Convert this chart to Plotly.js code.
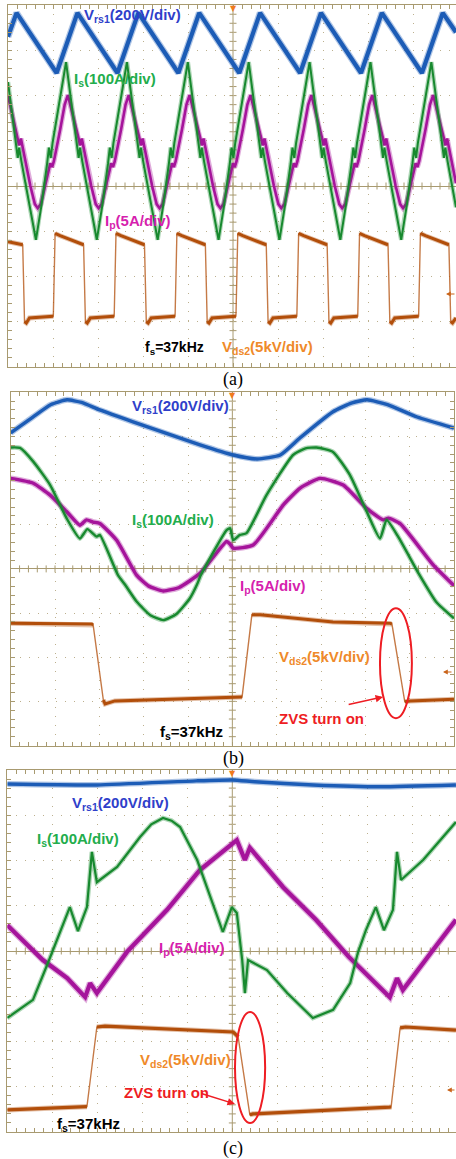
<!DOCTYPE html>
<html><head><meta charset="utf-8">
<script src="https://cdn.plot.ly/plotly-3.0.1.min.js"></script>
<style>html,body{margin:0;padding:0;background:#fff;}#chart{width:456px;height:1159px;}</style>
</head><body><div id="chart"></div>
<script>
// ---------------- DATA (x: divisions from left edge, y: divisions from screen centre) ----------------
// Panel (a) 20 us/div
const aBlueX = [0, 0.19, 1.08, 1.543, 2.433, 2.896, 3.786, 4.249, 5.139, 5.602, 6.492, 6.955, 7.845, 8.308, 9.198, 9.661, 9.956];
const aBlueY = [3.30, 3.83, 2.50, 3.83, 2.50, 3.83, 2.50, 3.83, 2.50, 3.83, 2.50, 3.83, 2.50, 3.83, 2.50, 3.83, 3.40];

const aGreenX = [0, 0.057, 0.187, 0.217, 0.247, 0.297, 0.62, 0.74, 0.87, 0.91, 0.95, 0.99, 1.29,
  1.41, 1.54, 1.57, 1.60, 1.65, 1.973, 2.093, 2.223, 2.263, 2.303, 2.343, 2.643,
  2.763, 2.893, 2.923, 2.953, 3.003, 3.326, 3.446, 3.576, 3.616, 3.656, 3.696, 3.996,
  4.116, 4.246, 4.276, 4.306, 4.356, 4.679, 4.799, 4.929, 4.969, 5.009, 5.049, 5.349,
  5.469, 5.599, 5.629, 5.659, 5.709, 6.032, 6.152, 6.282, 6.322, 6.362, 6.402, 6.702,
  6.822, 6.952, 6.982, 7.012, 7.062, 7.385, 7.505, 7.635, 7.675, 7.715, 7.755, 8.055,
  8.175, 8.305, 8.335, 8.365, 8.415, 8.738, 8.858, 8.988, 9.028, 9.068, 9.108, 9.408,
  9.528, 9.658, 9.688, 9.718, 9.768, 9.956];
const aGreenY = [2.30, 1.85, 0.85, 0.62, 0.85, 0.55, -1.19, -0.45, 0.5, 0.85, 0.62, 0.95, 2.74,
  1.85, 0.85, 0.62, 0.85, 0.55, -1.19, -0.45, 0.5, 0.85, 0.62, 0.95, 2.74,
  1.85, 0.85, 0.62, 0.85, 0.55, -1.19, -0.45, 0.5, 0.85, 0.62, 0.95, 2.74,
  1.85, 0.85, 0.62, 0.85, 0.55, -1.19, -0.45, 0.5, 0.85, 0.62, 0.95, 2.74,
  1.85, 0.85, 0.62, 0.85, 0.55, -1.19, -0.45, 0.5, 0.85, 0.62, 0.95, 2.74,
  1.85, 0.85, 0.62, 0.85, 0.55, -1.19, -0.45, 0.5, 0.85, 0.62, 0.95, 2.74,
  1.85, 0.85, 0.62, 0.85, 0.55, -1.19, -0.45, 0.5, 0.85, 0.62, 0.95, 2.74,
  1.85, 0.85, 0.62, 0.85, 0.55, -0.47];

const aMagX = [0, 0.097, 0.217, 0.247, 0.287, 0.337, 0.497, 0.597, 0.66, 0.73, 0.84, 0.94, 0.98, 1.02, 1.16, 1.26, 1.33,
  1.45, 1.57, 1.60, 1.64, 1.69, 1.85, 1.95, 2.013, 2.083, 2.193, 2.293, 2.333, 2.373, 2.513, 2.613, 2.683,
  2.803, 2.923, 2.953, 2.993, 3.043, 3.203, 3.303, 3.366, 3.436, 3.546, 3.646, 3.686, 3.726, 3.866, 3.966, 4.036,
  4.156, 4.276, 4.306, 4.346, 4.396, 4.556, 4.656, 4.719, 4.789, 4.899, 4.999, 5.039, 5.079, 5.219, 5.319, 5.389,
  5.509, 5.629, 5.659, 5.699, 5.749, 5.909, 6.009, 6.072, 6.142, 6.252, 6.352, 6.392, 6.432, 6.572, 6.672, 6.742,
  6.862, 6.982, 7.012, 7.052, 7.102, 7.262, 7.362, 7.425, 7.495, 7.605, 7.705, 7.745, 7.785, 7.925, 8.025, 8.095,
  8.215, 8.335, 8.365, 8.405, 8.455, 8.615, 8.715, 8.778, 8.848, 8.958, 9.058, 9.098, 9.138, 9.278, 9.378, 9.448,
  9.568, 9.688, 9.718, 9.758, 9.808, 9.956];
const aMagY = [2.0, 1.55, 1.05, 0.9, 1.05, 0.8, 0.0, -0.4, -0.49, -0.4, 0.05, 0.5, 0.42, 0.55, 1.25, 1.8, 2.01,
  1.55, 1.05, 0.9, 1.05, 0.8, 0.0, -0.4, -0.49, -0.4, 0.05, 0.5, 0.42, 0.55, 1.25, 1.8, 2.01,
  1.55, 1.05, 0.9, 1.05, 0.8, 0.0, -0.4, -0.49, -0.4, 0.05, 0.5, 0.42, 0.55, 1.25, 1.8, 2.01,
  1.55, 1.05, 0.9, 1.05, 0.8, 0.0, -0.4, -0.49, -0.4, 0.05, 0.5, 0.42, 0.55, 1.25, 1.8, 2.01,
  1.55, 1.05, 0.9, 1.05, 0.8, 0.0, -0.4, -0.49, -0.4, 0.05, 0.5, 0.42, 0.55, 1.25, 1.8, 2.01,
  1.55, 1.05, 0.9, 1.05, 0.8, 0.0, -0.4, -0.49, -0.4, 0.05, 0.5, 0.42, 0.55, 1.25, 1.8, 2.01,
  1.55, 1.05, 0.9, 1.05, 0.8, 0.0, -0.4, -0.49, -0.4, 0.05, 0.5, 0.42, 0.55, 1.25, 1.8, 2.01,
  1.55, 1.05, 0.9, 1.05, 0.8, 0.06];

const aBrownX = [0, 0.327, 0.367, 0.407, 0.477, 1.007, 1.047, 1.157,
  1.68, 1.72, 1.76, 1.83, 2.36, 2.40, 2.51,
  3.033, 3.073, 3.113, 3.183, 3.713, 3.753, 3.863,
  4.386, 4.426, 4.466, 4.536, 5.066, 5.106, 5.216,
  5.739, 5.779, 5.819, 5.889, 6.419, 6.459, 6.569,
  7.092, 7.132, 7.172, 7.242, 7.772, 7.812, 7.922,
  8.445, 8.485, 8.525, 8.595, 9.125, 9.165, 9.275,
  9.798, 9.838, 9.878, 9.956];
const aBrownY = [-1.23, -1.30, -3.0, -3.03, -2.92, -2.88, -1.05, -1.10,
  -1.30, -3.0, -3.03, -2.92, -2.88, -1.05, -1.10,
  -1.30, -3.0, -3.03, -2.92, -2.88, -1.05, -1.10,
  -1.30, -3.0, -3.03, -2.92, -2.88, -1.05, -1.10,
  -1.30, -3.0, -3.03, -2.92, -2.88, -1.05, -1.10,
  -1.30, -3.0, -3.03, -2.92, -2.88, -1.05, -1.10,
  -1.30, -3.0, -3.03, -2.92, -2.88, -1.05, -1.10,
  -1.30, -3.0, -3.03, -2.92];

// Panel (b) 4 us/div
const bBlueX = [0, 0.50, 0.9, 1.27, 1.6, 2.01, 2.76, 4.27, 5.02, 5.56, 6.08, 6.53, 7.27, 7.7, 8.04, 8.5, 9.17, 10];
const bBlueY = [3.08, 3.44, 3.72, 3.83, 3.77, 3.60, 3.33, 2.81, 2.58, 2.49, 2.58, 2.97, 3.56, 3.76, 3.83, 3.72, 3.44, 3.19];
const bGreenX = [0, 0.21, 0.51, 0.89, 1.26, 1.56, 1.73, 1.94, 2.01, 2.42, 2.58, 2.84, 3.15, 3.44, 3.74, 4.04, 4.20, 4.29,
  4.87, 4.95, 5.02, 5.17, 5.32, 5.77, 6.37, 6.65, 6.90, 7.27, 7.65, 8.03, 8.33, 8.48, 8.74, 9.2, 9.6, 10];
const bGreenY = [2.75, 2.74, 2.43, 1.90, 1.15, 0.69, 0.90, 0.73, 0.77, -0.14, -0.36, -0.74, -1.05, -1.16, -1.02, -0.67, -0.36, -0.14,
  0.88, 0.92, 0.65, 0.77, 0.81, 1.67, 2.58, 2.73, 2.75, 2.65, 2.13, 1.30, 0.69, 1.11, 0.73, -0.1, -0.75, -1.12];
const bMagX = [0, 0.51, 0.89, 1.26, 1.56, 1.71, 1.86, 2.01, 2.39, 2.84, 3.1, 3.44, 3.8, 4.27, 4.87, 4.95, 5.02, 5.47,
  6.15, 6.53, 6.98, 7.50, 8.03, 8.40, 8.52, 8.78, 9.53, 10];
const bMagY = [2.05, 1.94, 1.67, 1.30, 0.99, 1.11, 1.06, 1.03, 0.65, -0.14, -0.38, -0.50, -0.42, -0.10, 0.62, 0.56, 0.47, 0.54,
  1.45, 1.83, 2.05, 1.90, 1.37, 1.11, 1.15, 1.03, 0.09, -0.38];
const bBrownX = [0, 1.83, 1.86, 2.09, 2.13, 2.35, 5.17, 5.22, 5.44, 5.63, 7.27, 8.56, 8.60, 8.89, 9.01, 10];
const bBrownY = [-1.23, -1.25, -1.27, -2.97, -3.06, -2.99, -2.90, -2.90, -1.04, -1.04, -1.20, -1.23, -1.25, -3.01, -2.99, -2.95];

// Panel (c) 4 us/div
const cBlueX = [0, 2.0, 4.2, 5.0, 5.5, 6.8, 8.3, 9.97];
const cBlueY = [3.69, 3.67, 3.76, 3.78, 3.74, 3.67, 3.63, 3.67];
const cGreenX = [0, 0.57, 0.90, 1.17, 1.39, 1.57, 1.77, 1.88, 1.99, 2.44, 2.95, 3.2, 3.46, 3.65, 3.84, 4.22, 4.57, 4.79, 4.99, 5.10,
  5.22, 5.28, 5.35, 5.77, 6.22, 6.79, 7.24, 7.62, 7.79, 7.97, 8.19, 8.37, 8.57, 8.66, 8.75, 9.24, 9.97];
const cGreenY = [-1.48, -1.08, -0.27, 0.40, 0.97, 0.44, 0.97, 2.19, 1.52, 1.86, 2.52, 2.80, 2.94, 2.88, 2.74, 2.01, 1.06, 0.42, 0.97, 0.84,
  -0.20, -0.93, -0.20, -0.42, -0.93, -1.48, -1.30, -0.71, -0.04, 0.46, 0.97, 0.46, 0.91, 2.19, 1.57, 2.01, 2.85];
const cMagX = [0, 0.79, 1.33, 1.73, 1.84, 1.99, 2.66, 3.55, 4.28, 4.95, 5.10, 5.28, 5.39, 6.13, 6.86, 7.59, 7.99, 8.50, 8.66, 8.79, 9.46, 9.97];
const cMagY = [0.57, -0.20, -0.60, -1.02, -0.71, -0.93, -0.02, 0.91, 1.79, 2.34, 2.45, 2.01, 2.28, 1.41, 0.69, -0.13, -0.53, -1.02, -0.60, -0.86, 0.02, 0.69];
const cBrownX = [0, 1.73, 1.77, 1.99, 2.17, 5.02, 5.13, 5.39, 5.46, 8.50, 8.53, 8.73, 8.85, 9.97];
const cBrownY = [-3.51, -3.45, -3.44, -1.68, -1.66, -1.79, -1.90, -3.62, -3.60, -3.45, -3.44, -1.70, -1.68, -1.75];

// ---------------- STYLE ----------------
const W = 456, H = 1159;
const GRID = '#a89a70', DOT = '#bcb08e';
const COL = {blue: '#1c5cb6', green: '#17892e', mag: '#a5149b', brown: '#b24e0a'};
const TXT = {blue: '#2f3fca', green: '#22ad4c', mag: '#d61fae', orange: '#ef8a2a', red: '#ee1d23'};
const FONT = '"Liberation Sans", Arial, sans-serif';

const panels = [
  {n: 1, xd: [8 / W, 1], yd: [1 - 366.8 / H, 1 - 5.2 / H], xr: [0, 448 / 45], right: false},
  {n: 2, xd: [10.7 / W, 454 / W], yd: [1 - 745.5 / H, 1 - 392.3 / H], xr: [0, 10], right: true},
  {n: 3, xd: [7.3 / W, 1], yd: [1 - 1132 / H, 1 - 770 / H], xr: [0, 448.7 / 45], right: false}
];
const sfx = n => (n === 1 ? '' : String(n));

// a trace drawn as a faint halo (scope noise band) plus its core line
function tr(x, y, color, width, n, shape, out) {
  const base = {type: 'scatter', mode: 'lines', x: x, y: y, xaxis: 'x' + sfx(n), yaxis: 'y' + sfx(n),
    hoverinfo: 'skip', showlegend: false};
  out.push(Object.assign({}, base, {opacity: 0.35, line: {color: color, width: width + 2.5, shape: shape || 'linear', smoothing: 0.5}}));
  out.push(Object.assign({}, base, {line: {color: color, width: width, shape: shape || 'linear', smoothing: 0.5}}));
}
// a square-ish trace: thin everywhere, thick only on its slow (flat) parts
function trStep(x, y, color, width, n, out) {
  const fx = [], fy = [];
  for (let i = 0; i < x.length; i++) {
    if (i > 0) {
      const slope = Math.abs((y[i] - y[i - 1]) / (x[i] - x[i - 1]));
      if (slope > 3) { fx.push(null); fy.push(null); }
    }
    fx.push(x[i]); fy.push(y[i]);
  }
  const base = {type: 'scatter', mode: 'lines', xaxis: 'x' + sfx(n), yaxis: 'y' + sfx(n), hoverinfo: 'skip', showlegend: false};
  out.push(Object.assign({}, base, {x: x, y: y, opacity: 0.75, line: {color: color, width: 1.4}}));
  out.push(Object.assign({}, base, {x: fx, y: fy, connectgaps: false, opacity: 0.35, line: {color: color, width: width + 2}}));
  out.push(Object.assign({}, base, {x: fx, y: fy, connectgaps: false, line: {color: color, width: width}}));
}
const data = [];
tr(aMagX, aMagY, COL.mag, 2.6, 1, 'linear', data); tr(aGreenX, aGreenY, COL.green, 2, 1, 'linear', data);
tr(aBlueX, aBlueY, COL.blue, 4.2, 1, 'linear', data); trStep(aBrownX, aBrownY, COL.brown, 3, 1, data);
tr(bMagX, bMagY, COL.mag, 3.4, 2, 'spline', data); tr(bGreenX, bGreenY, COL.green, 2.4, 2, 'spline', data);
tr(bBlueX, bBlueY, COL.blue, 3.4, 2, 'spline', data); trStep(bBrownX, bBrownY, COL.brown, 3, 2, data);
tr(cMagX, cMagY, COL.mag, 4.2, 3, 'linear', data); tr(cGreenX, cGreenY, COL.green, 2.2, 3, 'linear', data);
tr(cBlueX, cBlueY, COL.blue, 3.4, 3, 'spline', data); trStep(cBrownX, cBrownY, COL.brown, 3.2, 3, data);

const layout = {width: W, height: H, margin: {l: 0, r: 0, t: 0, b: 0}, paper_bgcolor: '#fff', plot_bgcolor: '#fff',
  showlegend: false, shapes: [], annotations: []};

panels.forEach(p => {
  const s = sfx(p.n);
  const minor = {dtick: 0.2, tick0: 0, ticks: 'inside', ticklen: 4, tickcolor: GRID, tickwidth: 1, showgrid: false};
  layout['xaxis' + s] = {domain: p.xd, range: p.xr, anchor: 'y' + s, tickmode: 'linear', dtick: 1, tick0: 0,
    showgrid: true, gridcolor: DOT, griddash: '1px,8px', gridwidth: 1, showline: true, linecolor: GRID, linewidth: 1,
    mirror: 'allticks', ticks: 'inside', ticklen: 4, tickcolor: GRID, showticklabels: false, zeroline: false,
    fixedrange: true, minor: minor};
  layout['yaxis' + s] = {domain: p.yd, range: [-4, 4], anchor: 'x' + s, tickmode: 'linear', dtick: 1, tick0: 0,
    showgrid: true, gridcolor: DOT, griddash: '1px,8px', gridwidth: 1, showline: true, linecolor: GRID, linewidth: 1,
    mirror: p.right ? 'allticks' : false, ticks: 'inside', ticklen: 4, tickcolor: GRID, showticklabels: false,
    zeroline: true, zerolinecolor: GRID, zerolinewidth: 1, fixedrange: true, minor: minor};
  layout.shapes.push({type: 'line', xref: 'x' + s, yref: 'y' + s + ' domain', x0: 5, x1: 5, y0: 0, y1: 1,
    line: {color: GRID, width: 1}, layer: 'below'});
  for (let v = 0.2; v < p.xr[1] - 0.01; v += 0.2) {
    layout.shapes.push({type: 'line', xref: 'x' + s, yref: 'y' + s, ysizemode: 'pixel', yanchor: 0, y0: -3.5, y1: 3.5,
      x0: v, x1: v, line: {color: GRID, width: 1}, layer: 'below'});
  }
  for (let v = -3.8; v < 3.9; v += 0.2) {
    layout.shapes.push({type: 'line', xref: 'x' + s, yref: 'y' + s, xsizemode: 'pixel', xanchor: 5, x0: -3.5, x1: 3.5,
      y0: v, y1: v, line: {color: GRID, width: 1}, layer: 'below'});
  }
  layout.annotations.push({xref: 'x' + s, yref: 'y' + s, x: 5, y: 4, yanchor: 'top', yshift: 3, showarrow: false,
    text: '\u25BC', font: {family: 'DejaVu Sans', size: 8, color: '#f07a1c'}});
});

function lab(text, xPx, yPx, color, size, anchor, fam) {
  layout.annotations.push({xref: 'paper', yref: 'paper', x: xPx / W, y: 1 - yPx / H, xanchor: anchor || 'left',
    yanchor: 'middle', text: text, showarrow: false, font: {family: fam || FONT, size: size, color: color}});
}
const tV = '<b>V<sub>rs1</sub>(200V/div)</b>', tIs = '<b>I<sub>s</sub>(100A/div)</b>', tIp = '<b>I<sub>p</sub>(5A/div)</b>',
  tVd = '<b>V<sub>ds2</sub>(5kV/div)</b>', tF = '<b>f<sub>s</sub>=37kHz</b>', tZ = '<b>ZVS turn on</b>';
// (a)
lab(tV, 82, 15, TXT.blue, 15); lab(tIs, 72, 80, TXT.green, 15); lab(tIp, 103, 222, TXT.mag, 15);
lab(tF, 143, 348, '#000', 14); lab(tVd, 220, 348, TXT.orange, 15);
lab('(a)', 233, 379, '#000', 18, 'center', 'Liberation Serif, serif');
// (b)
lab(tV, 130, 406, TXT.blue, 15); lab(tIs, 130, 520, TXT.green, 15); lab(tIp, 238, 586, TXT.mag, 15);
lab(tVd, 277, 658, TXT.orange, 15); lab(tZ, 277, 718, TXT.red, 15); lab(tF, 158, 732, '#000', 15);
lab('(b)', 233, 758, '#000', 18, 'center', 'Liberation Serif, serif');
// (c)
lab(tV, 70, 803, TXT.blue, 15); lab(tIs, 35, 839, TXT.green, 15); lab(tIp, 157, 948, TXT.mag, 15);
lab(tVd, 138, 1060, TXT.orange, 15); lab(tZ, 122, 1092, TXT.red, 15); lab(tF, 55, 1124, '#000', 15);
lab('(c)', 233, 1148, '#000', 18, 'center', 'Liberation Serif, serif');

layout.shapes.push({type: 'circle', xref: 'x2', yref: 'y2', x0: 8.33, x1: 9.05, y0: -3.38, y1: -0.89, line: {color: TXT.red, width: 2}});
layout.shapes.push({type: 'circle', xref: 'x3', yref: 'y3', x0: 5.06, x1: 5.73, y0: -3.80, y1: -1.35, line: {color: TXT.red, width: 2}});
layout.annotations.push({xref: 'x2', yref: 'y2', x: 8.40, y: -2.90, axref: 'x2', ayref: 'y2', ax: 7.59, ay: -3.08, text: '',
  showarrow: true, arrowhead: 2, arrowsize: 1, arrowwidth: 1.5, arrowcolor: TXT.red});
layout.annotations.push({xref: 'x3', yref: 'y3', x: 5.06, y: -3.38, axref: 'x3', ayref: 'y3', ax: 4.28, ay: -3.14, text: '',
  showarrow: true, arrowhead: 2, arrowsize: 1, arrowwidth: 1.5, arrowcolor: TXT.red});
[[446, 294], [443, 672], [447, 1090]].forEach(q => {
  layout.annotations.push({xref: 'paper', yref: 'paper', x: q[0] / W, y: 1 - q[1] / H, ax: 10, ay: 0, text: '',
    showarrow: true, arrowhead: 2, arrowsize: 0.8, arrowwidth: 1.2, arrowcolor: '#c9641a'});
});

Plotly.newPlot('chart', data, layout, {staticPlot: true, displayModeBar: false});
</script></body></html>
